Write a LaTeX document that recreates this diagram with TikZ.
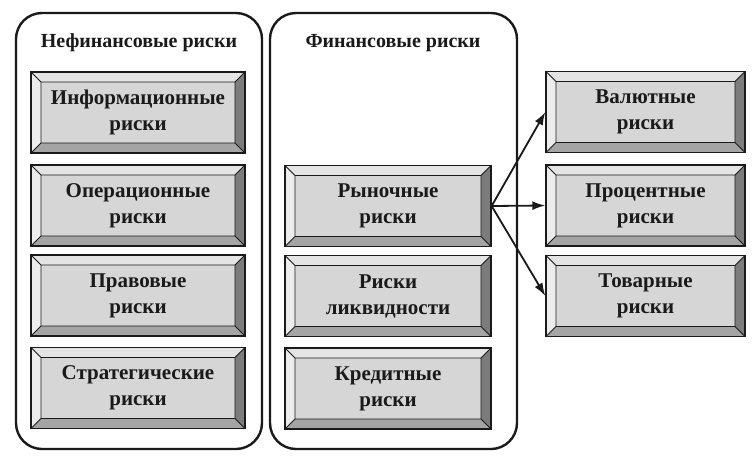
\documentclass[tikz,border=0pt]{standalone}
\usepackage{fontspec}
\setmainfont{Liberation Serif}
\usetikzlibrary{calc,arrows.meta}
\definecolor{face}{HTML}{D6D6D6}
\definecolor{bevtop}{HTML}{E4E4E4}
\definecolor{bevleft}{HTML}{ECECEC}
\definecolor{bevbot}{HTML}{A4A4A4}
\definecolor{bevright}{HTML}{7C7C7C}
\definecolor{ink}{HTML}{1A1A1A}
\newcommand{\bw}{10}
\tikzset{
  container/.style={draw=ink, line width=2.4pt, rounded corners=26pt},
  title/.style={font=\fontsize{20}{24}\selectfont\bfseries, text=ink},
  bev/.style={draw=ink, line width=1.3pt, fill=face, inner sep=0pt,
    align=center, text=ink, font=\fontsize{21}{26}\selectfont\bfseries,
    minimum height=81pt,
    path picture={
      \path (path picture bounding box.north west) coordinate (A)
            (path picture bounding box.north east) coordinate (B)
            (path picture bounding box.south east) coordinate (C)
            (path picture bounding box.south west) coordinate (D);
      \path ($(A)+(\bw,\bw)$) coordinate (a)
            ($(B)+(-\bw,\bw)$) coordinate (b)
            ($(C)+(-\bw,-\bw)$) coordinate (c)
            ($(D)+(\bw,-\bw)$) coordinate (d);
      \fill[bevtop] (A)--(B)--(b)--(a)--cycle;
      \fill[bevright] (B)--(C)--(c)--(b)--cycle;
      \fill[bevbot] (C)--(D)--(d)--(c)--cycle;
      \fill[bevleft] (D)--(A)--(a)--(d)--cycle;
      \draw[ink, line width=0.9pt] (a)--(b)--(c)--(d)--cycle
        (A)--(a) (B)--(b) (C)--(c) (D)--(d);
    }},
  leftbox/.style={bev, minimum width=214pt},
  midbox/.style={bev, minimum width=206pt},
  rightbox/.style={bev, minimum width=199pt},
  link/.style={draw=ink, line width=1.8pt, -{Latex[length=13pt,width=9pt]}}
}
\begin{document}
\begin{tikzpicture}[x=1pt,y=-1pt]
\useasboundingbox (0,0) rectangle (756,459);
\fill[white] (0,0) rectangle (756,459);
\draw[container] (16,13) rectangle (262,449);
\draw[container] (270,13) rectangle (517,449);
\node[title] (t1) at (139,43) {Нефинансовые риски};
\node[title] (t2) at (393,43) {Финансовые риски};

\node[leftbox] (info) at (138,112.5) {Информационные\\риски};
\node[leftbox] (oper) at (138,205.5) {Операционные\\риски};
\node[leftbox] (prav) at (138,295.5) {Правовые\\риски};
\node[leftbox] (strat) at (138,388) {Стратегические\\риски};

\node[midbox] (ryn) at (388,206) {Рыночные\\риски};
\node[midbox] (likv) at (388,296) {Риски\\ликвидности};
\node[midbox] (kred) at (388,388.5) {Кредитные\\риски};

\node[rightbox] (val) at (645.5,112) {Валютные\\риски};
\node[rightbox] (proc) at (645.5,205.5) {Процентные\\риски};
\node[rightbox] (tov) at (645.5,296) {Товарные\\риски};

\draw[link] (ryn.east) -- (val.west);
\draw[link] (ryn.east) -- (proc.west);
\draw[link] (ryn.east) -- (tov.west);
\end{tikzpicture}
\end{document}
